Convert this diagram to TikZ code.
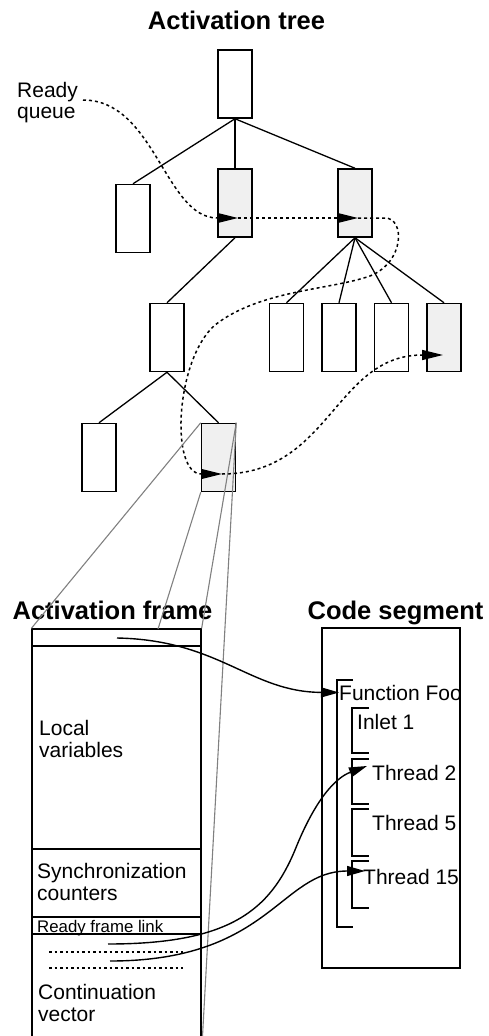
\documentclass[tikz,border=0pt]{standalone}
\usepackage{fontspec}
\setmainfont{Liberation Sans}
\usetikzlibrary{positioning,arrows.meta}

\begin{document}
\begin{tikzpicture}
[
x=1pt, y=-1pt,
box-w/.style={draw, line width=1.5pt, minimum width=34pt, minimum height=68pt, inner sep=0pt},
box-g/.style={box-w, fill=black!6},
edge-a/.style={line width=1.3pt},
proj-a/.style={draw=black!50, line width=1.1pt},
ready-a/.style={line width=1.5pt, dash pattern=on 3pt off 3pt, -{Triangle[length=21pt,width=10pt]}},
link-a/.style={line width=1.4pt, -{Triangle[length=18pt,width=10pt]}},
title-a/.style={font=\fontsize{25.5}{28}\selectfont\bfseries, anchor=base},
text-a/.style={font=\fontsize{21}{21.6}\selectfont, align=left, anchor=west, inner sep=0pt},
text-b/.style={font=\fontsize{21}{21.6}\selectfont, anchor=base west, inner sep=0pt},
text-c/.style={font=\fontsize{16.8}{18}\selectfont, anchor=base west, inner sep=0pt},
seg-a/.style={draw, line width=1.3pt, inner sep=0pt},
line-a/.style={line width=1.3pt},
dots-a/.style={line width=1.1pt, dash pattern=on 2.5pt off 3pt},
brac-a/.style={line width=1.4pt}
]
\useasboundingbox (0,0) rectangle (489,1036);

% titles
\node (title-tree)  [title-a] at (236.5, 29) {Activation tree};
\node (title-frame) [title-a] at (112.5,619) {Activation frame};
\node (title-code)  [title-a] at (395.5,619) {Code segment};

% activation tree
\node (tree-0)  [box-w] at (235  , 84  ) {};
\node (tree-1)  [box-w] at (133  ,218.5) {};
\node (tree-2)  [box-g] at (235  ,203  ) {};
\node (tree-3)  [box-g] at (355  ,203  ) {};
\node (tree-4)  [box-w] at (167  ,337.5) {};
\node (tree-5)  [box-w] at (286.5,337.5) {};
\node (tree-6)  [box-w, right = 17pt of tree-5] {};
\node (tree-7)  [box-w, right = 17pt of tree-6] {};
\node (tree-8)  [box-g, right = 17pt of tree-7] {};
\node (tree-9)  [box-w] at ( 99  ,457.5) {};
\node (tree-10) [box-g] at (218.5,457.5) {};

\draw[edge-a] (tree-0.south) -- (tree-1.north);
\draw[edge-a] (tree-0.south) -- (tree-2.north);
\draw[edge-a] (tree-0.south) -- (tree-3.north);
\draw[edge-a] (tree-2.south) -- (tree-4.north);
\draw[edge-a] (tree-3.south) -- (tree-5.north);
\draw[edge-a] (tree-3.south) -- (tree-6.north);
\draw[edge-a] (tree-3.south) -- (tree-7.north);
\draw[edge-a] (tree-3.south) -- (tree-8.north);
\draw[edge-a] (tree-4.south) -- (tree-9.north);
\draw[edge-a] (tree-4.south) -- (tree-10.north);

% ready queue
\node (rq) [text-a] at (17,102.4) {Ready\\queue};
\coordinate (rq-0) at ( 83,100);
\coordinate (rq-1) at (238,218);
\coordinate (rq-2) at (358,218);
\coordinate (rq-3) at (222,474);
\coordinate (rq-4) at (443,355);
\draw[ready-a] (rq-0) .. controls (155,100) and (165,218) .. (rq-1);
\draw[ready-a] (rq-1) -- (rq-2);
\draw[ready-a] (rq-2) -- (385,218) .. controls (405,218) and (405,262) .. (370,276)
  .. controls (330,290) and (260,290) .. (215,325)
  .. controls (175,360) and (170,474) .. (rq-3);
\draw[ready-a] (rq-3) .. controls (330,474) and (335,355) .. (rq-4);

% activation frame
\node (frame) [seg-a, minimum width=169pt, minimum height=422pt] at (116.5,840) {};
\coordinate (frame-top) at (158,629);
\draw[line-a] (32,646) -- (201,646);
\draw[line-a] (32,849) -- (201,849);
\draw[line-a] (32,917) -- (201,917);
\draw[line-a] (32,934) -- (201,934);
\draw[dots-a] (49,952) -- (183,952);
\draw[dots-a] (49,968) -- (183,968);
\node (local) [text-a] at (39, 739) {Local\\variables};
\node (sync)  [text-a] at (37, 882) {Synchronization\\counters};
\node (link)  [text-c] at (37,932.5) {Ready frame link};
\node (cont)  [text-a] at (38,1003) {Continuation\\vector};

\draw[proj-a] (tree-10.north west) -- (frame.north west);
\draw[proj-a] (tree-10.south west) -- (frame-top);
\draw[proj-a] (tree-10.north east) -- (frame.north east);
\draw[proj-a] (tree-10.north east) -- (frame.south east);

% code segment
\node (code) [seg-a, minimum width=138pt, minimum height=340pt] at (391,798) {};
\draw[brac-a] (353,680) -- (337,680) -- (337,927) -- (353,927);
\draw[brac-a] (369,708) -- (352,708) -- (352,753) -- (369,753);
\draw[brac-a] (369,759) -- (352,759) -- (352,804) -- (369,804);
\draw[brac-a] (369,809) -- (352,809) -- (352,856) -- (369,856);
\draw[brac-a] (369,861) -- (352,861) -- (352,908) -- (369,908);
\node (fn)    [text-b] at (339,700) {Function Foo};
\node (in-1)  [text-b] at (357,729.3) {Inlet 1};
\node (th-2)  [text-b] at (372,780) {Thread 2};
\node (th-5)  [text-b] at (372,830.7) {Thread 5};
\node (th-15) [text-b] at (363,884) {Thread 15};

% links
\coordinate (hd-1) at (117,638);
\coordinate (cv-1) at (108,944);
\coordinate (cv-2) at (110,961);
\coordinate (tip-2)  at (367,766);
\coordinate (tip-15) at (365,871);
\draw[link-a] (hd-1) .. controls (220,640) and (250,692) .. (fn.west);
\draw[link-a] (cv-1) .. controls (230,944) and (270,910) .. (295,850)
  .. controls (315,800) and (335,778) .. (tip-2);
\draw[link-a] (cv-2) .. controls (270,961) and (280,871) .. (tip-15);
\end{tikzpicture}
\end{document}
